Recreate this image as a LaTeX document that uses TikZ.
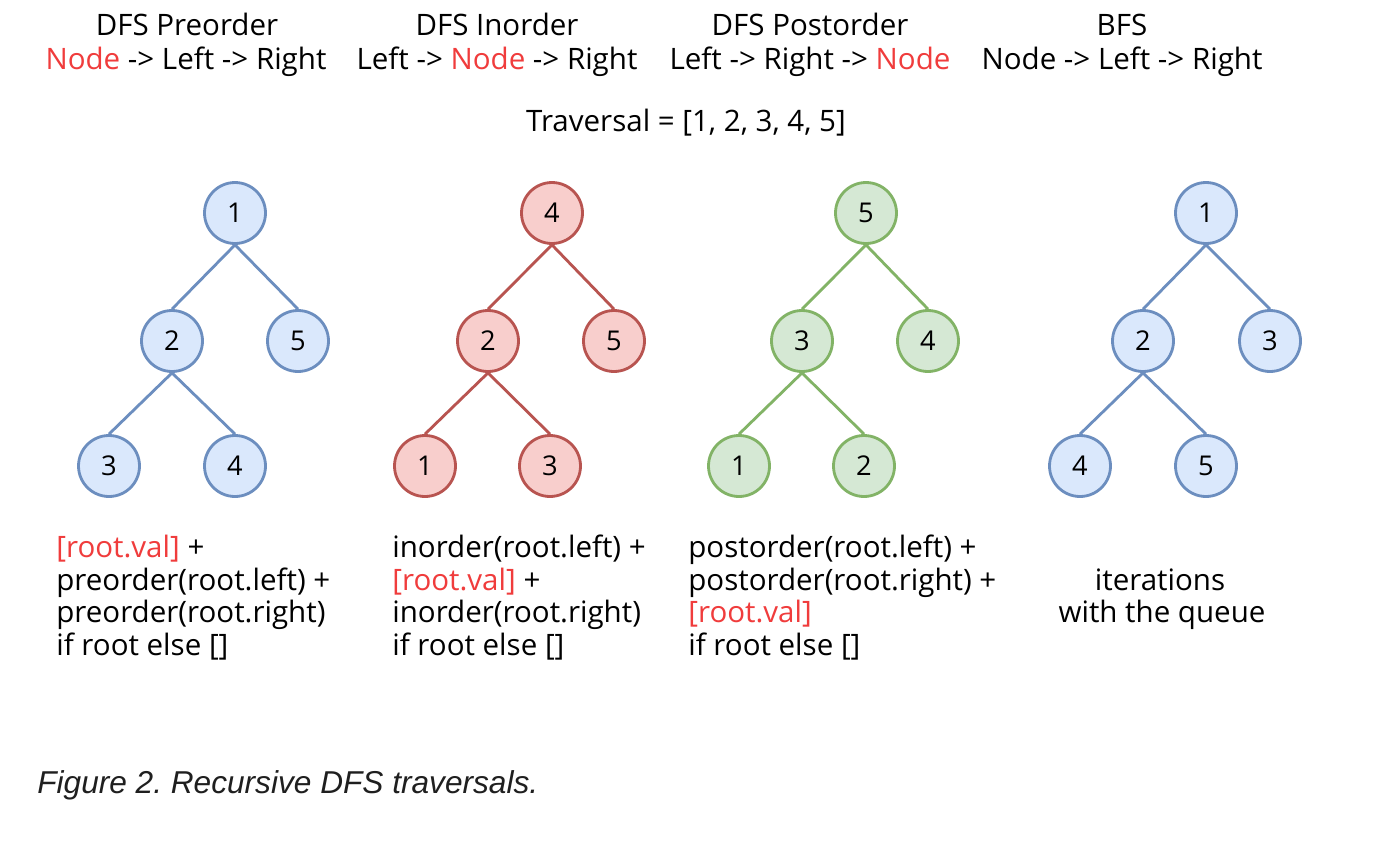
\documentclass[tikz,border=0pt]{standalone}
\usepackage{fontspec}
\setmainfont{Open Sans}
\newfontfamily\capfont{Liberation Sans}
\frenchspacing
\definecolor{bluefill}{HTML}{DAE8FC}
\definecolor{blueline}{HTML}{6C8EBF}
\definecolor{redfill}{HTML}{F8CECC}
\definecolor{redline}{HTML}{B85450}
\definecolor{greenfill}{HTML}{D5E8D4}
\definecolor{greenline}{HTML}{82B366}
\definecolor{hl}{HTML}{F03C3C}
\newcommand{\hl}[1]{\textcolor{hl}{#1}}
\tikzset{
  txt/.style={inner sep=0pt, font=\fontsize{16.8}{20}\selectfont},
  code/.style={txt, anchor=base west},
  head/.style={txt, anchor=base},
  tnode/.style={circle, line width=1.6pt, minimum size=1.22cm, inner sep=0pt, font=\fontsize{15.5}{18}\selectfont},
  bluenode/.style={tnode, draw=blueline, fill=bluefill},
  rednode/.style={tnode, draw=redline, fill=redfill},
  greennode/.style={tnode, draw=greenline, fill=greenfill},
  blueedge/.style={draw=blueline, line width=1.6pt},
  rededge/.style={draw=redline, line width=1.6pt},
  greenedge/.style={draw=greenline, line width=1.6pt},
}
\begin{document}
\begin{tikzpicture}[x=0.02cm, y=-0.02cm]
\useasboundingbox[fill=white] (0,0) rectangle (1390,842);
% headers
\node[head] (h1a) at (187,35) {DFS Preorder};
\node[head] (h1b) at (186,69) {\hl{Node} -> Left -> Right};
\node[head] (h2a) at (497,35) {DFS Inorder};
\node[head] (h2b) at (497,69) {Left -> \hl{Node} -> Right};
\node[head] (h3a) at (810,35) {DFS Postorder};
\node[head] (h3b) at (810,69) {Left -> Right -> \hl{Node}};
\node[head] (h4a) at (1122,35) {BFS};
\node[head] (h4b) at (1122,69) {Node -> Left -> Right};
\node[head] (trav) at (686,131) {Traversal = [1, 2, 3, 4, 5]};
% preorder tree
\node[bluenode] (p1) at (235,213) {1};
\node[bluenode] (p2) at (172,341) {2};
\node[bluenode] (p5) at (298,341) {5};
\node[bluenode] (p3) at (109,466) {3};
\node[bluenode] (p4) at (235,466) {4};
\draw[blueedge] (p1.south)--(p2.north) (p1.south)--(p5.north);
\draw[blueedge] (p2.south)--(p3.north) (p2.south)--(p4.north);
% inorder tree
\node[rednode] (i4) at (552,213) {4};
\node[rednode] (i2) at (488,341) {2};
\node[rednode] (i5) at (614,341) {5};
\node[rednode] (i1) at (425,466) {1};
\node[rednode] (i3) at (550,466) {3};
\draw[rededge] (i4.south)--(i2.north) (i4.south)--(i5.north);
\draw[rededge] (i2.south)--(i1.north) (i2.south)--(i3.north);
% postorder tree
\node[greennode] (o5) at (866,213) {5};
\node[greennode] (o3) at (802,341) {3};
\node[greennode] (o4) at (928,341) {4};
\node[greennode] (o1) at (739,466) {1};
\node[greennode] (o2) at (864,466) {2};
\draw[greenedge] (o5.south)--(o3.north) (o5.south)--(o4.north);
\draw[greenedge] (o3.south)--(o1.north) (o3.south)--(o2.north);
% bfs tree
\node[bluenode] (b1) at (1206,213) {1};
\node[bluenode] (b2) at (1143,341) {2};
\node[bluenode] (b3) at (1270,341) {3};
\node[bluenode] (b4) at (1080,466) {4};
\node[bluenode] (b5) at (1206,466) {5};
\draw[blueedge] (b1.south)--(b2.north) (b1.south)--(b3.north);
\draw[blueedge] (b2.south)--(b4.north) (b2.south)--(b5.north);
% code
\node[code] (c1a) at (56,557) {\hl{[root.val]} +};
\node[code] (c1b) at (56,590) {preorder(root.left) +};
\node[code] (c1c) at (56,622) {preorder(root.right)};
\node[code] (c1d) at (56,655) {if root else []};
\node[code] (c2a) at (392,557) {inorder(root.left) +};
\node[code] (c2b) at (392,590) {\hl{[root.val]} +};
\node[code] (c2c) at (392,622) {inorder(root.right)};
\node[code] (c2d) at (392,655) {if root else []};
\node[code] (c3a) at (688,557) {postorder(root.left) +};
\node[code] (c3b) at (688,590) {postorder(root.right) +};
\node[code] (c3c) at (688,622) {\hl{[root.val]}};
\node[code] (c3d) at (688,655) {if root else []};
\node[head] (c4a) at (1160,590) {iterations};
\node[head] (c4b) at (1162,622) {with the queue};
% caption
\node[anchor=base west, inner sep=0pt, font=\capfont\itshape\fontsize{18}{21}\selectfont, text=black!88] (cap) at (37,793) {Figure 2. Recursive DFS traversals.};
\end{tikzpicture}
\end{document}
